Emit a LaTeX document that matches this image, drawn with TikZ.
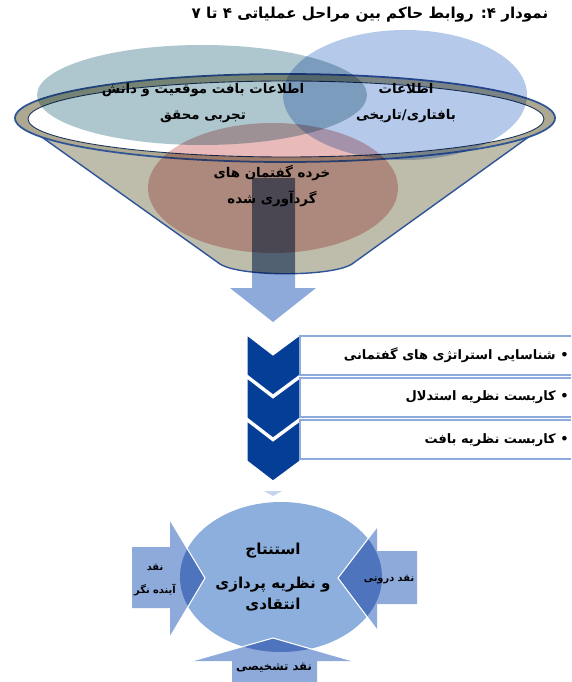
\documentclass[tikz,border=0pt]{standalone}
\usepackage{fontspec}
\usepackage{xcolor}
\usetikzlibrary{positioning}
\TeXXeTstate=1
\newfontfamily\arabicfont[Script=Arabic]{DejaVu Sans}
\newcommand{\fa}[1]{\beginR #1\endR}

\definecolor{funnelgray}{RGB}{190,188,170}
\definecolor{rimgray}{RGB}{172,168,145}
\definecolor{rimblue}{RGB}{47,85,151}
\definecolor{leftteal}{RGB}{174,199,206}
\definecolor{rightblue}{RGB}{181,201,235}
\definecolor{pinkish}{RGB}{232,186,186}
\definecolor{flowblue}{RGB}{142,170,219}
\definecolor{chevblue}{RGB}{5,62,150}
\definecolor{boxline}{RGB}{143,170,220}
\definecolor{ovalblue}{RGB}{141,175,221}

\begin{document}
\begin{tikzpicture}[x=0.02cm,y=-0.02cm,
  fatext/.style={font=\arabicfont\bfseries\fontsize{7.6}{10}\selectfont, align=center, inner sep=0pt},
  titletext/.style={fatext, font=\arabicfont\bfseries\fontsize{8.6}{11}\selectfont},
  listtext/.style={fatext, font=\arabicfont\bfseries\fontsize{7.4}{10}\selectfont, anchor=east},
  smalltext/.style={fatext, font=\arabicfont\bfseries\fontsize{5.6}{8}\selectfont},
  chevron/.style={fill=chevblue, draw=white, line width=0.6pt},
  listbox/.style={fill=white, draw=boxline, line width=1pt},
  sidearrow/.style={fill=flowblue}]
\useasboundingbox (0,0) rectangle (571,682);
\clip (0,0) rectangle (571,682);
% title
\node (title) [titletext] at (370,15) {\fa{نمودار ۴: روابط حاکم بین مراحل عملیاتی ۴ تا ۷}};
% funnel
\fill[funnelgray] (15,118) -- (220,264) .. controls (240,277) and (332,277) .. (352,264) -- (555,118) -- cycle;
\draw[rimblue, line width=0.8pt] (15,118) -- (220,264) .. controls (240,277) and (332,277) .. (352,264) -- (555,118);
\filldraw[fill=rimgray, draw=rimblue, line width=1pt] (285,118) ellipse [x radius=270, y radius=44];
\filldraw[fill=white, draw=rimblue!60!black, line width=0.5pt] (286,119) ellipse [x radius=258, y radius=38];
% circles in the funnel
\begin{scope}[blend mode=multiply]
\fill[leftteal] (202,95) ellipse [x radius=165, y radius=50];
\fill[rightblue] (405,95) ellipse [x radius=122, y radius=65];
\fill[pinkish] (273,188) ellipse [x radius=125, y radius=65];
\fill[flowblue] (252,178) -- (295,178) -- (295,288) -- (316,288) -- (273,322) -- (230,288) -- (252,288) -- cycle;
\clip (15,118) -- (220,264) .. controls (240,277) and (332,277) .. (352,264) -- (555,118) -- cycle;
\fill[black!22] (252,178) rectangle (295,288);
\end{scope}
\node (context) [fatext] at (203,103) {\fa{اطلاعات بافت موقعیت و دانش}\\[5pt]\fa{تجربی محقق}};
\node (history) [fatext] at (406,103) {\fa{اطلاعات}\\[5pt]\fa{بافتاری/تاریخی}};
\node (microdisc) [fatext] at (272,186) {\fa{خرده گفتمان های}\\[5pt]\fa{گردآوری شده}};
% chevrons and list
\foreach \y in {335,378,421}
  \filldraw[chevron] (247,\y) -- (273,\y+20) -- (300,\y) -- (300,\y+40) -- (273,\y+60) -- (247,\y+40) -- cycle;
\foreach \y in {336,378,420}
  \filldraw[listbox] (300,\y) rectangle (585,\y+39);
\node (step1) [listtext] at (569,355) {\fa{• شناسایی استراتژی های گفتمانی}};
\node (step2) [listtext] at (569,397) {\fa{• کاربست نظریه استدلال}};
\node (step3) [listtext] at (569,440) {\fa{• کاربست نظریه بافت}};
% bottom oval and arrows
\fill[flowblue!50] (264,491) -- (282,491) -- (273,496) -- cycle;
\fill[ovalblue] (281,577) ellipse [x radius=101, y radius=75];
\begin{scope}[blend mode=multiply]
\fill[sidearrow] (132,547) -- (170,547) -- (170,520) -- (205,578) -- (170,637) -- (170,608) -- (132,608) -- cycle;
\fill[sidearrow] (417,551) -- (377,551) -- (377,527) -- (338,578) -- (377,630) -- (377,604) -- (417,604) -- cycle;
\fill[sidearrow] (232,690) -- (232,661) -- (192,661) -- (273,638) -- (353,661) -- (317,661) -- (317,690) -- cycle;
\end{scope}
\draw[white, line width=0.6pt] (170,520) -- (205,578) -- (170,637);
\draw[white, line width=0.6pt] (377,527) -- (338,578) -- (377,630);
\draw[white, line width=0.6pt] (192,661) -- (273,638) -- (353,661);
\node (infer) [titletext] at (273,577) {\fa{استنتاج}\\[8pt]\fa{و نظریه پردازی}\\[1pt]\fa{انتقادی}};
\node (future) [smalltext] at (155,580) {\fa{نقد}\\[5pt]\fa{آینده نگر}};
\node (inner) [smalltext] at (389,580) {\fa{نقد درونی}};
\node (diagn) [smalltext, font=\arabicfont\bfseries\fontsize{6.6}{8}\selectfont] at (274,668) {\fa{نقد تشخیصی}};
\end{tikzpicture}
\end{document}
